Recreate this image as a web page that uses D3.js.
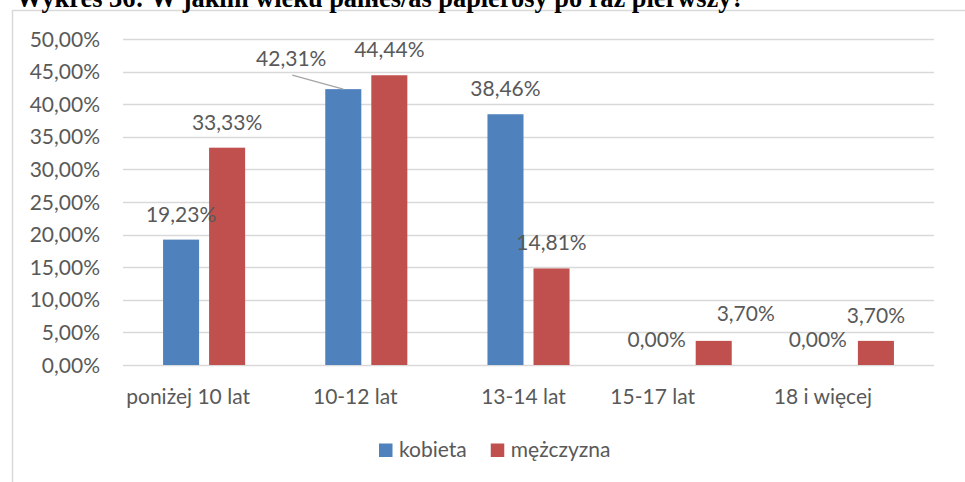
<!DOCTYPE html>
<html>
<head>
<meta charset="utf-8">
<script src="https://cdn.jsdelivr.net/npm/d3@7/dist/d3.min.js"></script>
<style>
  body { margin: 0; background: #fff; }
  svg { display: block; }
</style>
</head>
<body>
<svg width="965" height="482"></svg>
<script>
const title = "Wykres 36: W jakim wieku paliłeś/aś papierosy po raz pierwszy?";
const categories = ["poniżej 10 lat", "10-12 lat", "13-14 lat", "15-17 lat", "18 i więcej"];
const series = ["kobieta", "mężczyzna"];
const kobieta = [0.1923, 0.4231, 0.3846, 0.0, 0.0];
const mezczyzna = [0.3333, 0.4444, 0.1481, 0.037, 0.037];
const yTicks = [0, 0.05, 0.1, 0.15, 0.2, 0.25, 0.3, 0.35, 0.4, 0.45, 0.5];

const colors = ["#4F81BD", "#C0504D"];
const values = [kobieta, mezczyzna];
// manual nudges of the data labels, as in the original chart
const labelShift = [
  [[0, 0], [-52, -5], [0, 0], [-11, 0], [-12, 0]],
  [[0, 0], [0, 0], [0, 0], [32, -2], [0, 0]]
];
// category labels sit slightly left of the groups in the original
const catShift = [-16, -11, -5, -38, -30];

const fontSans = "Lato, 'Open Sans', sans-serif";
const textColor = "#595959";
const fs = 21;

const svg = d3.select("svg");

// outer chart frame
svg.append("rect")
  .attr("x", 12.5).attr("y", 10.5)
  .attr("width", 1000).attr("height", 600)
  .attr("fill", "none")
  .attr("stroke", "#D9D9D9")
  .attr("stroke-width", 1.5);

// title, cut at the top like in the source
const t = svg.append("text")
  .attr("x", 16).attr("y", 7)
  .attr("font-family", "'Liberation Serif', 'Times New Roman', serif")
  .attr("font-weight", "bold")
  .attr("font-size", 20)
  .attr("fill", "#000")
  .text(title);
const tw = t.node().getComputedTextLength();
t.attr("font-size", 20 * 729 / tw);

const x0 = d3.scaleBand()
  .domain(categories)
  .range([123, 934])
  .paddingInner(0.494)
  .paddingOuter(0.247);

const x1 = d3.scaleBand()
  .domain(series)
  .range([0, x0.bandwidth()])
  .paddingInner(0.217);

const y = d3.scaleLinear().domain([0, 0.5]).range([365, 39]);

const fmt = v => d3.format(".2f")(v * 100).replace(".", ",") + "%";

// gridlines
svg.append("g")
  .selectAll("line")
  .data(yTicks)
  .join("line")
  .attr("x1", 123).attr("x2", 934)
  .attr("y1", d => Math.round(y(d)) + 0.5)
  .attr("y2", d => Math.round(y(d)) + 0.5)
  .attr("stroke", "#D9D9D9")
  .attr("stroke-width", 1.5);

// y tick labels
svg.append("g")
  .selectAll("text")
  .data(yTicks)
  .join("text")
  .attr("x", 100)
  .attr("y", d => y(d))
  .attr("dy", "0.36em")
  .attr("text-anchor", "end")
  .attr("font-family", fontSans)
  .attr("font-size", fs)
  .attr("fill", textColor)
  .text(d => fmt(d));

// bars
series.forEach((s, si) => {
  svg.append("g")
    .selectAll("rect")
    .data(values[si])
    .join("rect")
    .attr("x", (d, i) => x0(categories[i]) + x1(s))
    .attr("y", d => y(d))
    .attr("width", x1.bandwidth())
    .attr("height", d => y(0) - y(d))
    .attr("fill", colors[si]);
});

// leader line for the moved 42,31% label
{
  const cx = x0(categories[1]) + x1(series[0]) + x1.bandwidth() / 2;
  svg.append("line")
    .attr("x1", cx - 51).attr("y1", y(kobieta[1]) - 14)
    .attr("x2", cx).attr("y2", y(kobieta[1]))
    .attr("stroke", "#A6A6A6")
    .attr("stroke-width", 1.5);
}

// data labels
series.forEach((s, si) => {
  svg.append("g")
    .selectAll("text")
    .data(values[si])
    .join("text")
    .attr("x", (d, i) => x0(categories[i]) + x1(s) + x1.bandwidth() / 2 + labelShift[si][i][0])
    .attr("y", (d, i) => y(d) - 18 + labelShift[si][i][1])
    .attr("text-anchor", "middle")
    .attr("font-family", fontSans)
    .attr("font-size", fs)
    .attr("fill", textColor)
    .text(d => fmt(d));
});

// category labels
svg.append("g")
  .selectAll("text")
  .data(categories)
  .join("text")
  .attr("x", (d, i) => x0(d) + x0.bandwidth() / 2 + catShift[i])
  .attr("y", 404)
  .attr("text-anchor", "middle")
  .attr("font-family", fontSans)
  .attr("font-size", fs)
  .attr("fill", textColor)
  .text(d => d);

// legend
let lx = 379;
series.forEach((s, si) => {
  svg.append("rect")
    .attr("x", lx).attr("y", 443.5)
    .attr("width", 13.5).attr("height", 13.5)
    .attr("fill", colors[si]);
  const lt = svg.append("text")
    .attr("x", lx + 20).attr("y", 457)
    .attr("font-family", fontSans)
    .attr("font-size", fs)
    .attr("fill", textColor)
    .text(s);
  lx += 20 + lt.node().getComputedTextLength() + 24;
});
</script>
</body>
</html>
